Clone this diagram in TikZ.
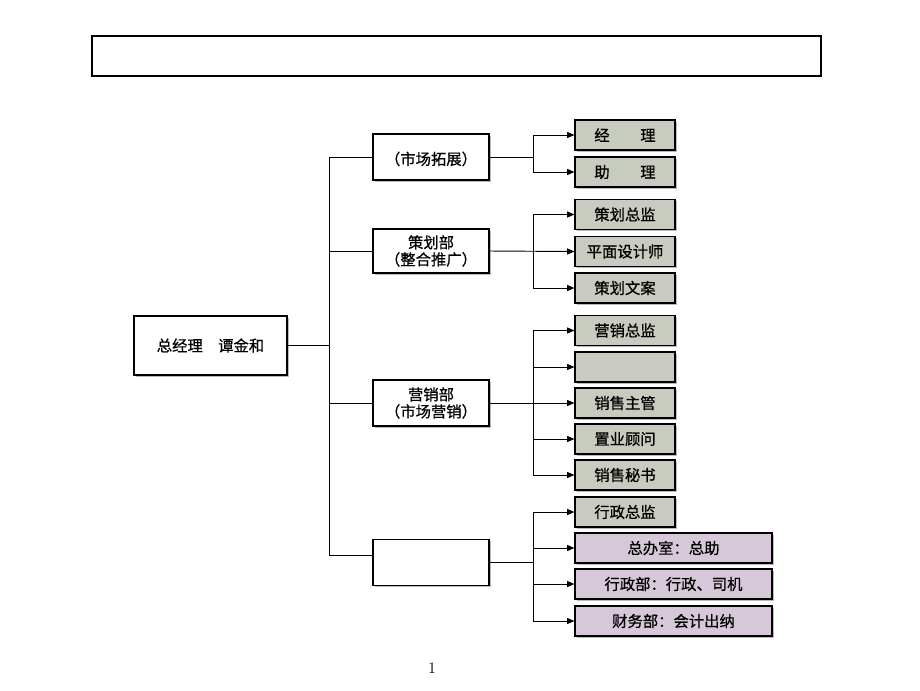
\documentclass[tikz,border=0pt]{standalone}
\usepackage{fontspec}
\newfontfamily\cjk[FakeBold=0.7]{Noto Sans CJK SC}
\usetikzlibrary{arrows.meta,shadows}
\definecolor{boxA}{RGB}{200,204,192}
\definecolor{boxB}{RGB}{214,200,216}
\tikzset{
  base/.style={draw=black, line width=0.8pt, inner sep=0pt, align=center,
    font=\cjk\fontsize{11.5}{12.75}\selectfont,
    drop shadow={shadow xshift=1.2pt, shadow yshift=-1.2pt, fill=black!45, opacity=0.6}},
  wbox/.style={base, fill=white},
  gbox/.style={base, fill=boxA, minimum width=75pt, minimum height=22.5pt},
  pbox/.style={base, fill=boxB, minimum width=147.75pt, minimum height=22.5pt},
  conn/.style={draw=black, line width=0.7pt},
  arr/.style={conn, -{Triangle[length=5.5pt,width=4.5pt]}}
}
\begin{document}
\begin{tikzpicture}[x=0.75pt,y=-0.75pt]
\useasboundingbox (0,0) rectangle (920,690);
% top banner
\node[draw=black, line width=0.8pt, minimum width=546.75pt, minimum height=30pt, inner sep=0pt] (banner) at (456.5,56) {};
% root
\node[wbox, minimum width=114.75pt, minimum height=44.25pt] (root) at (210.5,345.5) {总经理\quad 谭金和};
% level 2
\node[wbox, minimum width=87pt, minimum height=34.5pt] (l1) at (431,157) {\mbox{}\\（市场拓展）};
\node[wbox, minimum width=87pt, minimum height=33pt] (l2) at (431,251) {策划部\\（整合推广）};
\node[wbox, minimum width=87pt, minimum height=34.5pt] (l3) at (431,403) {营销部\\（市场营销）};
\node[wbox, minimum width=87pt, minimum height=34.5pt] (l4) at (431,562.5) {};
% level 3
\node[gbox] (r1) at (625,135) {经\qquad 理};
\node[gbox] (r2) at (625,172) {助\qquad 理};
\node[gbox] (r3) at (625,214.5) {策划总监};
\node[gbox] (r4) at (625,251.5) {平面设计师};
\node[gbox] (r5) at (625,288) {策划文案};
\node[gbox] (r6) at (625,330.5) {营销总监};
\node[gbox] (r7) at (625,367) {};
\node[gbox] (r8) at (625,403) {销售主管};
\node[gbox] (r9) at (625,439) {置业顾问};
\node[gbox] (r10) at (625,475) {销售秘书};
\node[gbox] (r11) at (625,512) {行政总监};
\node[pbox] (r12) at (673.5,548) {总办室：总助};
\node[pbox] (r13) at (673.5,584) {行政部：行政、司机};
\node[pbox] (r14) at (673.5,621) {财务部：会计出纳};
% page number
\node[font=\fontsize{12}{14}\selectfont] (pg) at (432,668) {1};
% trunk
\coordinate (tk) at (329,0);
\coordinate (tkbot) at (329,555);
\draw[conn] (root.east) -- (root.east -| tk);
\draw[conn] (tk |- l1) -- (tkbot);
\draw[conn] (tk |- l1) -- (l1.west);
\draw[conn] (tk |- l2) -- (l2.west);
\draw[conn] (tk |- l3) -- (l3.west);
\draw[conn] (tkbot) -- (tkbot -| l4.west);
% branches
\coordinate (br) at (533,0);
% group 1
\draw[conn] (l1.east) -- (l1.east -| br);
\draw[conn] (br |- r1) -- (br |- r2);
\draw[arr] (br |- r1) -- (r1.west);
\draw[arr] (br |- r2) -- (r2.west);
% group 2
\draw[conn] (br |- r3) -- (br |- r5);
\draw[arr] (l2.east) -- (r4.west);
\draw[arr] (br |- r3) -- (r3.west);
\draw[arr] (br |- r5) -- (r5.west);
% group 3
\draw[conn] (br |- r6) -- (br |- r10);
\draw[arr] (l3.east) -- (r8.west);
\draw[arr] (br |- r6) -- (r6.west);
\draw[arr] (br |- r7) -- (r7.west);
\draw[arr] (br |- r9) -- (r9.west);
\draw[arr] (br |- r10) -- (r10.west);
% group 4
\draw[conn] (l4.east) -- (l4.east -| br);
\draw[conn] (br |- r11) -- (br |- r14);
\draw[arr] (br |- r11) -- (r11.west);
\draw[arr] (br |- r12) -- (r12.west);
\draw[arr] (br |- r13) -- (r13.west);
\draw[arr] (br |- r14) -- (r14.west);
\end{tikzpicture}
\end{document}
